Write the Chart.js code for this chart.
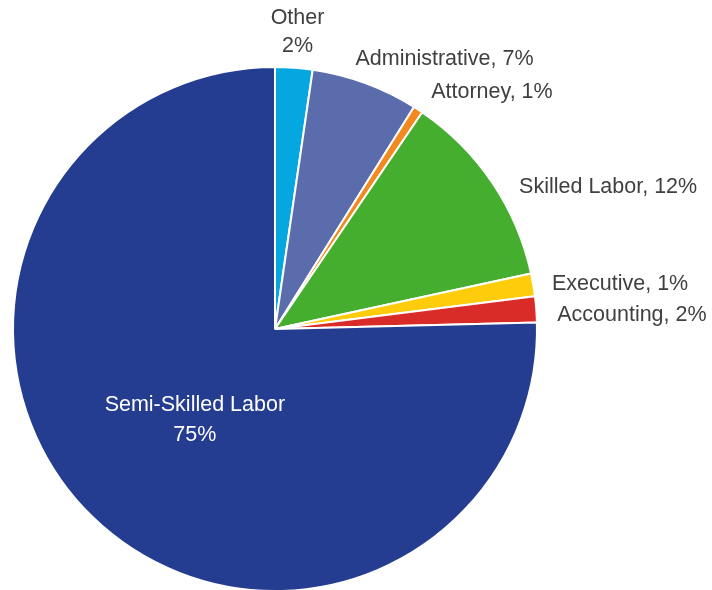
<!DOCTYPE html>
<html>
<head>
<meta charset="utf-8">
<script src="https://cdn.jsdelivr.net/npm/chart.js@4.4.1/dist/chart.umd.min.js"></script>
<style>
  html, body { margin: 0; padding: 0; background: #fff; overflow: hidden; }
  #wrap { position: relative; width: 712px; height: 600px; }
</style>
</head>
<body>
<div id="wrap"><canvas id="jobPie"></canvas></div>
<script>
// ===== Data =====
const categories = ['Other', 'Administrative', 'Attorney', 'Skilled Labor', 'Executive', 'Accounting', 'Semi-Skilled Labor'];
const shares     = [2.3, 6.6, 0.6, 12.1, 1.4, 1.6, 75.4];
const colors     = ['#05A7E0', '#5B6CAD', '#F28A1F', '#45AE2E', '#FECC0A', '#D92B27', '#243D91'];

// ===== Label layout (per slice: where and how the label sits) =====
// mode: 'out' = outside the rim, 'in' = inside the slice
// gap: px beyond the rim for outside labels, dist: fraction of radius for inside ones
const labelStyle = [
  { mode: 'out', gap: 36, align: 'center', twoLines: true, dx: 1, dy: 0 },
  { mode: 'out', gap: 18, align: 'left',  dx: -16, dy: -7 },
  { mode: 'out', gap: 22, align: 'left',  dx: 1,   dy: 1 },
  { mode: 'out', gap: 18, align: 'left',  dx: 12,  dy: 15 },
  { mode: 'out', gap: 18, align: 'left',  dx: 1,   dy: 2 },
  { mode: 'out', gap: 20, align: 'left',  dx: 1,   dy: 7 },
  { mode: 'in',  dist: 0.46, align: 'center', twoLines: true, dx: 4, dy: 5, color: '#ffffff' }
];

const FONT = '21.5px "Liberation Sans", Arial, Helvetica, sans-serif';
const TEXT = '#404040';

const sliceLabels = {
  id: 'sliceLabels',
  afterDatasetsDraw(chart) {
    const { ctx } = chart;
    const meta = chart.getDatasetMeta(0);
    ctx.save();
    ctx.font = FONT;
    ctx.textBaseline = 'middle';
    meta.data.forEach((arc, i) => {
      const st = labelStyle[i];
      const { x, y, startAngle, endAngle, outerRadius } = arc.getProps(['x', 'y', 'startAngle', 'endAngle', 'outerRadius'], true);
      const mid = (startAngle + endAngle) / 2;
      const d = st.mode === 'in' ? outerRadius * st.dist : outerRadius + st.gap;
      const lx = x + Math.cos(mid) * d + st.dx;
      const ly = y + Math.sin(mid) * d + st.dy;
      const pct = Math.round(shares[i]) + '%';
      ctx.fillStyle = st.color || TEXT;
      ctx.textAlign = st.align;
      if (st.twoLines) {
        const half = st.mode === 'in' ? 15 : 14;
        ctx.fillText(categories[i], lx, ly - half);
        ctx.fillText(pct, lx, ly + half);
      } else {
        ctx.fillText(categories[i] + ', ' + pct, lx, ly);
      }
    });
    ctx.restore();
  }
};

new Chart(document.getElementById('jobPie').getContext('2d'), {
  type: 'pie',
  data: {
    labels: categories,
    datasets: [{
      data: shares,
      backgroundColor: colors,
      borderColor: '#ffffff',
      borderWidth: 2
    }]
  },
  options: {
    responsive: true,
    maintainAspectRatio: false,
    animation: false,
    layout: { padding: { top: 66, bottom: 8, left: 12, right: 174 } },
    plugins: {
      legend: { display: false },
      tooltip: { enabled: false }
    }
  },
  plugins: [sliceLabels]
});
</script>
</body>
</html>
